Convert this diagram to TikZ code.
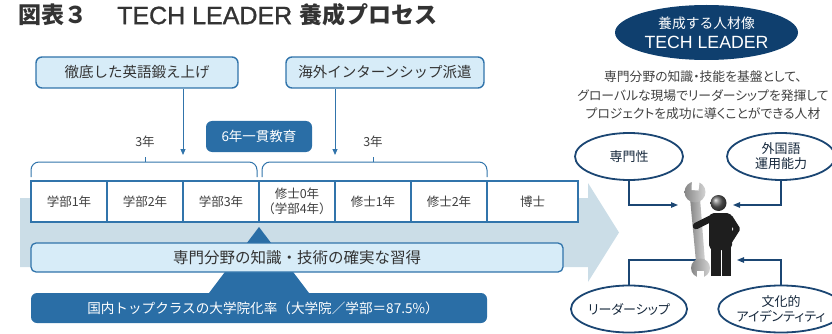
\documentclass[tikz,border=0pt]{standalone}
\usepackage{fontspec}
\setmainfont{Noto Sans CJK JP}
\newfontfamily\latinface{Liberation Sans}
\newfontfamily\latinheavy[FakeBold=1.2]{Liberation Sans}
\newfontfamily\propjp[RawFeature=+palt]{Noto Sans CJK JP}
\usetikzlibrary{arrows.meta,shapes.geometric}
\definecolor{titlegray}{HTML}{333333}
\definecolor{txtgray}{HTML}{404040}
\definecolor{boxline}{HTML}{3174AB}
\definecolor{lightfill}{HTML}{D7ECF8}
\definecolor{midblue}{HTML}{2A6EA6}
\definecolor{navy}{HTML}{0F3F6E}
\definecolor{ringline}{HTML}{1B4673}
\definecolor{ringtext}{HTML}{16283C}
\definecolor{arrowbg}{HTML}{CBDDE7}
\definecolor{wrgray}{HTML}{A8A8A8}
\definecolor{figblack}{HTML}{1E1E1E}
\tikzset{
  heading/.style={anchor=west, inner sep=0pt, text=titlegray},
  topbox/.style={draw=boxline, line width=1.4pt, fill=lightfill, rounded corners=6pt,
    minimum height=31pt, inner sep=0pt, font=\fontsize{14.5}{16}\selectfont, text=titlegray},
  solidbox/.style={fill=midblue, rounded corners=6pt, inner sep=0pt, text=white},
  cell/.style={draw=boxline, line width=1.1pt, fill=white, minimum height=41pt, inner sep=0pt,
    align=center, font=\fontsize{12.5}{14.5}\selectfont, text=txtgray},
  bracket/.style={draw=boxline, line width=1pt, rounded corners=8pt},
  conn/.style={draw=boxline, line width=1pt, -{Triangle[length=6pt,width=5pt]}},
  ring/.style={ellipse, draw=ringline, line width=1.8pt, fill=white, inner sep=0pt,
    minimum width=108pt, minimum height=47pt, align=center,
    font=\propjp\fontsize{13}{15}\selectfont, text=ringtext},
  ringconn/.style={draw=ringline, line width=1.1pt, -{Triangle[length=7pt,width=5.5pt]}},
  yearlbl/.style={font=\fontsize{12.5}{14}\selectfont, text=txtgray, inner sep=0pt},
}
\begin{document}
\begin{tikzpicture}[x=1pt,y=-1pt]
\useasboundingbox (0,0) rectangle (832,334);

% heading
\node[heading, font=\fontsize{23}{25}\selectfont\bfseries] (ttl) at (18,15) {図表３};
\node[heading, font=\latinheavy\fontsize{25}{27}\selectfont] (ttl2) at (117,15.5) {TECH LEADER};
\node[heading, font=\fontsize{23}{25}\selectfont\bfseries] (ttl3) at (299,15) {養成プロセス};

% broad background arrow
\fill[arrowbg] (20,198) -- (588,198) -- (588,183) -- (619,232.5) -- (588,282)
  -- (588,267) -- (20,267) -- cycle;

% programme boxes
\node[topbox, minimum width=202pt] (eng) at (137,72.5) {徹底した英語鍛え上げ};
\node[topbox, minimum width=198pt] (intern) at (385,72.5) {海外インターンシップ派遣};
\coordinate (engend) at (183,155);
\coordinate (intend) at (335,155);
\draw[conn] (engend |- eng.south) -- (engend);
\draw[conn] (intend |- intern.south) -- (intend);

\node[solidbox, minimum width=106pt, minimum height=31pt, font=\fontsize{13.5}{15}\selectfont]
  (six) at (259,136.5) {6年一貫教育};
\node[yearlbl] (y1) at (145,142) {3年};
\node[yearlbl] (y2) at (373,142) {3年};

% brackets over the years
\draw[bracket] (31,177) -- (31,162) -- (257,162) -- (257,177);
\draw[boxline, line width=1pt] (145,162) -- (145,157);
\draw[bracket] (262,177) -- (262,162) -- (487,162) -- (487,177);
\draw[boxline, line width=1pt] (373,162) -- (373,157);

% year cells
\node[cell, minimum width=76pt] (c1) at (69,201.5) {学部1年};
\node[cell, minimum width=76pt] (c2) at (145,201.5) {学部2年};
\node[cell, minimum width=76pt] (c3) at (221,201.5) {学部3年};
\node[cell, minimum width=76pt] (c4) at (297,201.5) {修士0年\\（学部4年）};
\node[cell, minimum width=76pt] (c5) at (373,201.5) {修士1年};
\node[cell, minimum width=76pt] (c6) at (449,201.5) {修士2年};
\node[cell, minimum width=91pt] (c7) at (532.5,201.5) {博士};

% pyramid and bars
\fill[midblue] (259,227) -- (309,293) -- (209,293) -- cycle;
\node[draw=boxline, line width=1.3pt, fill=lightfill, rounded corners=5pt, inner sep=0pt,
  minimum width=532pt, minimum height=29pt, font=\fontsize{15.5}{17}\selectfont, text=titlegray]
  (skill) at (297,257.5) {専門分野の知識・技術の確実な習得};
\node[solidbox, minimum width=456pt, minimum height=30pt, font=\fontsize{13.6}{16}\selectfont]
  (rate) at (259,308) {\hspace*{8pt}国内トップクラスの大学院化率（大学院／学部＝87.5\%）};

% target profile
\node[ellipse, fill=navy, inner sep=0pt, minimum width=183pt, minimum height=55pt,
  align=center, text=white, font=\latinface\fontsize{17.7}{20}\selectfont] (goal) at (706.5,32.5)
  {{\fontsize{13.8}{20}\selectfont\rmfamily 養成する人材像}\\TECH LEADER};
\node[align=center, inner sep=0pt, font=\propjp\fontsize{12.8}{18.5}\selectfont, text=txtgray]
  (desc) at (703,95.5) {専門分野の知識・技能を基盤として、\\グローバルな現場でリーダーシップを発揮して\\プロジェクトを成功に導くことができる人材};

\node[ring] (e1) at (629,156.5) {専門性};
\node[ring] (e2) at (781,156.5) {外国語\\運用能力};
\node[ring] (e3) at (629,309) {リーダーシップ};
\node[ring] (e4) at (781,309) {文化的\\アイデンティティ};

\coordinate (p1) at (678,205);
\coordinate (p2) at (733,205);
\coordinate (p3) at (703,260);
\coordinate (p4) at (737,260);
\draw[ringconn] (e1.south) |- (p1);
\draw[ringconn] (e2.south) |- (p2);
\draw[ringconn] (e3.north) |- (p3);
\draw[ringconn] (e4.north) |- (p4);

% wrench
\shade[left color=wrgray!80!black, right color=wrgray!50] (690,198) -- (700,198) -- (705,262) -- (696,262) -- cycle;
\shade[left color=wrgray!80!black, right color=wrgray!50] (695,192) circle (10.5);
\fill[white] (692,179) -- (691.5,190) -- (698.5,190.5) -- (700,179) -- cycle;
\shade[left color=wrgray!80!black, right color=wrgray!50] (700.5,268) circle (9.5);
\fill[white] (697,271) -- (697,281) -- (704,281) -- (704,271) -- cycle;

% figure
\fill[figblack] (711,244) rectangle (720.5,276);
\fill[figblack] (722,244) rectangle (731,276);
\fill[figblack, rounded corners=5pt] (709,213) rectangle (732,250);
\draw[figblack, line width=6pt, line cap=round, line join=round] (730,218) -- (737,229) -- (730,240);
\draw[figblack, line width=6.5pt, line cap=round] (712,218) -- (696,226);
\shade[ball color=figblack!70] (718.5,203) circle (8);
\end{tikzpicture}
\end{document}
